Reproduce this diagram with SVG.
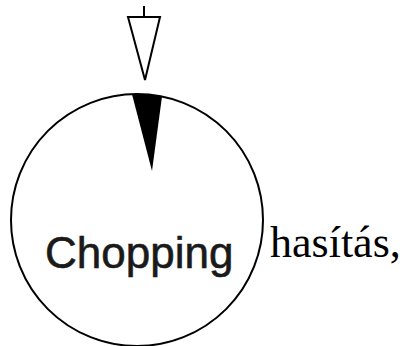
<svg xmlns="http://www.w3.org/2000/svg" width="403" height="346" viewBox="0 0 403 346">
<style>
.ln{fill:none;stroke:#000;stroke-width:2}
.lbl{font-family:"Liberation Sans",Arial,sans-serif;font-size:44px;fill:#1a1a1a;stroke:#1a1a1a;stroke-width:0.6}
.cap{font-family:"Liberation Serif","Times New Roman",serif;font-size:44px;fill:#000}
</style>
<rect width="403" height="346" fill="#fff"/>
<g id="connectors">
<line class="ln" x1="144" y1="6" x2="144" y2="17"/>
<polygon class="ln" points="128,17 160,17 145,80" stroke-linejoin="miter"/>
</g>
<g id="node-chopping">
<circle class="ln" cx="137" cy="220" r="126" stroke-width="1.6"/>
<path d="M132,94.3 A126,126 0 0 1 162,96.5 L152,171 Z" fill="#000"/>
<text class="lbl" x="45" y="268">Chopping</text>
</g>
<text class="cap" x="270" y="257">hasítás,</text>
</svg>
